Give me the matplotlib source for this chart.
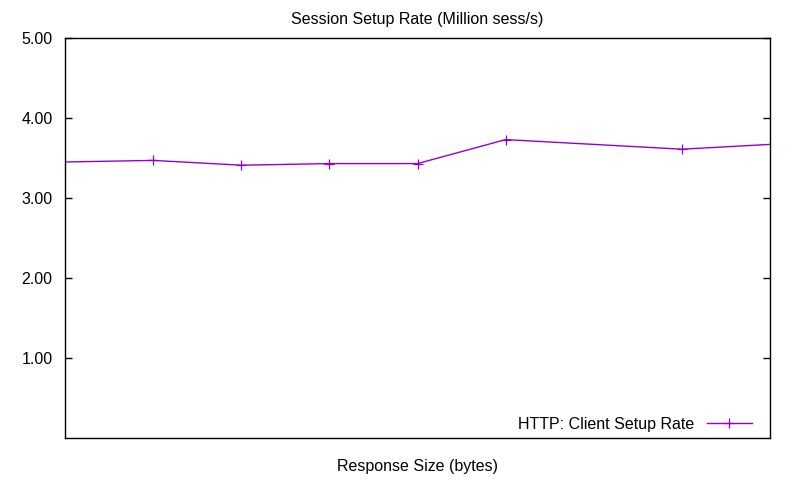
import matplotlib
matplotlib.use("Agg")
import matplotlib.pyplot as plt

plt.rcParams['font.family'] = ['Liberation Sans', 'DejaVu Sans']

# Session setup rate (million sess/s) per response size step
positions = [0, 1, 2, 3, 4, 5, 7, 8]
setup_rate = [3.45, 3.47, 3.41, 3.43, 3.43, 3.73, 3.61, 3.67]
y_ticks = [1, 2, 3, 4, 5]
y_labels = ["1.00", "2.00", "3.00", "4.00", "5.00"]

fig = plt.figure(figsize=(8, 4.8), dpi=100)
ax = fig.add_axes([65/800, 42/480, 705/800, 400/480])

ax.plot(positions, setup_rate, color='#9400D3', linewidth=1,
        marker='+', markersize=7, markeredgewidth=0.9, markevery=[1, 2, 3, 4, 5, 6],
        label="HTTP: Client Setup Rate")

ax.set_xlim(0, 8)
ax.set_ylim(0, 5)
ax.set_xticks([])
ax.set_yticks(y_ticks)
ax.set_yticklabels(y_labels, fontsize=11.5)
ax.tick_params(axis='y', direction='in', length=5, width=1, right=True, pad=9)
for s in ax.spines.values():
    s.set_linewidth(1)

ax.set_title("Session Setup Rate (Million sess/s)", fontsize=11.5, pad=10)
ax.set_xlabel("Response Size (bytes)", fontsize=11.5, labelpad=15)

ax.legend(loc='lower right', bbox_to_anchor=(0.983, 0.0), borderaxespad=0,
          frameon=False, markerfirst=False, fontsize=11.5,
          handlelength=2.8, handletextpad=0.8)

fig.savefig("out.png", dpi=100)
